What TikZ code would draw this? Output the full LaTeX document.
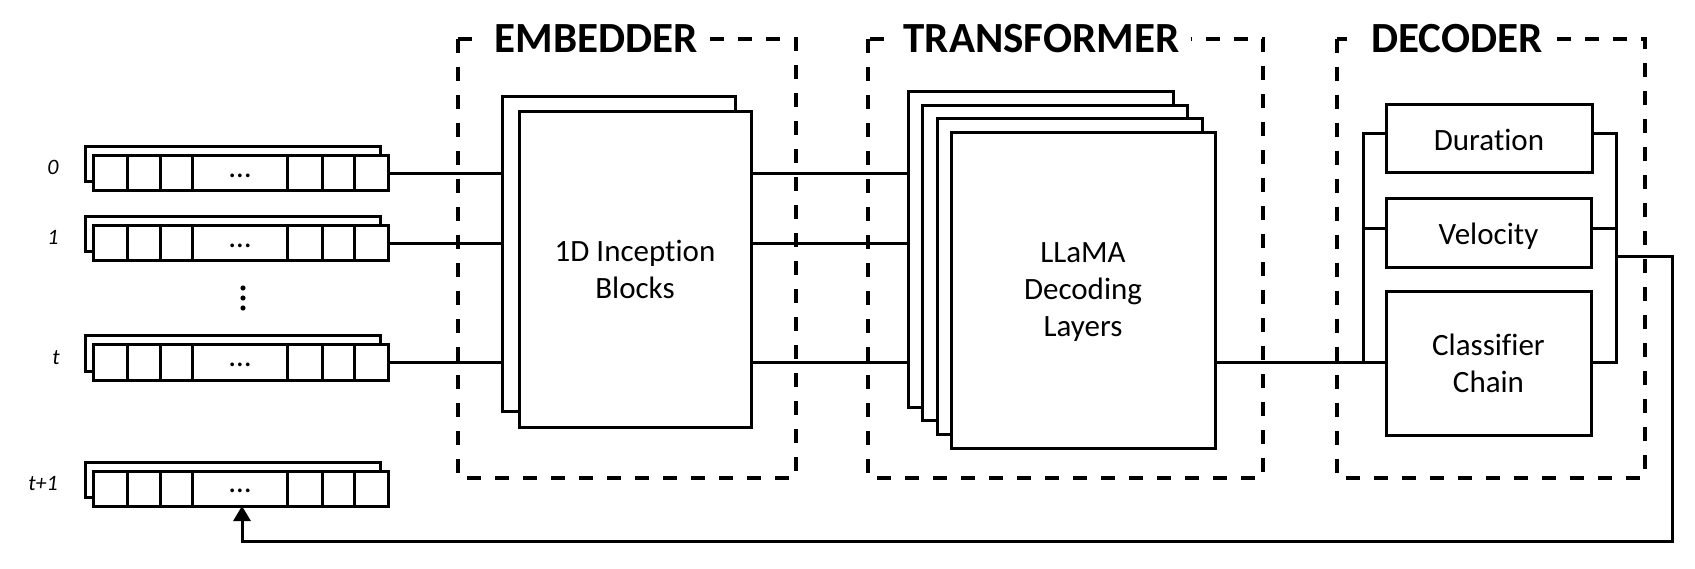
\documentclass[tikz,border=0pt]{standalone}
\usepackage{fontspec}
\setmainfont{Carlito}[Ligatures=NoCommon]
\usetikzlibrary{arrows.meta,calc}
\begin{document}
\begin{tikzpicture}[x=1pt,y=-1pt,
  line width=3pt,
  box/.style={draw,fill=white,line width=3pt,inner sep=0pt,outer sep=0pt,anchor=north west},
  grp/.style={draw,line width=3.3pt,dash pattern=on 14pt off 14pt},
  ttl/.style={fill=white,font=\fontsize{43}{50}\selectfont\bfseries,inner xsep=12pt,inner ysep=4pt,anchor=base west},
  lbl/.style={font=\fontsize{31}{37}\selectfont,align=center},
  rowlbl/.style={font=\fontsize{22}{26}\selectfont\itshape,anchor=base},
  dots/.style={font=\fontsize{31}{37}\selectfont,anchor=base,inner sep=0pt},
  fbarrow/.style={-{Triangle[width=17pt,length=15pt]}},
]
\useasboundingbox (0,0) rectangle (1695,569);

% group frames
\draw[grp] (458,39) rectangle (796,478);
\draw[grp] (868,39) rectangle (1263,478);
\draw[grp] (1337,39) rectangle (1645,478);
\node[ttl] (tEmb) at (481,53) {EMBEDDER};
\node[ttl] (tTra) at (890,53) {TRANSFORMER};
\node[ttl] (tDec) at (1358,53) {DECODER};

% input sequences
\foreach \n/\y/\l/\lx in {r0/156/0/53, r1/226/1/53, rt/345/t/56, rn/471/t+1/43}{
  \node[box,minimum width=295pt,minimum height=35pt] (\n b) at (85,\y-9) {};
  \node[box,minimum width=295pt,minimum height=35pt] (\n) at (93,\y) {};
  \foreach \d in {34,67,99,194,229,261}
    \draw ($(\n.north west)+(\d,0)$) -- ($(\n.south west)+(\d,0)$);
  \node[dots] (\n d) at ($(\n.west)+(147,4)$) {…};
  \node[rowlbl] (\n l) at (\lx,\y+19) {\l};
}
% vertical dots
\foreach \yy in {288,298,308}
  \fill (243,\yy) circle (2.6);

% embedder blocks
\node[box,minimum width=233pt,minimum height=314pt] (emb1) at (502,97) {};
\node[box,minimum width=232pt,minimum height=315pt] (emb2) at (519,112) {};
\node[lbl] (embt) at (emb2.center) {1D Inception\\Blocks};

% transformer layers
\node[box,minimum width=265pt,minimum height=315pt] (lay1) at (908,92) {};
\node[box,minimum width=265pt,minimum height=315pt] (lay2) at (922.5,105.5) {};
\node[box,minimum width=265pt,minimum height=315pt] (lay3) at (937,119) {};
\node[box,minimum width=264pt,minimum height=315pt] (lay4) at (951,133) {};
\node[lbl] (layt) at ($(lay4.center)+(0,2)$) {LLaMA\\Decoding\\Layers};

% decoder heads
\node[box,minimum width=206pt,minimum height=68pt] (dur) at (1386,105) {};
\node[lbl] (durt) at ($(dur.center)+(0,1)$) {Duration};
\node[box,minimum width=205pt,minimum height=69pt] (vel) at (1386,199) {};
\node[lbl] (velt) at ($(vel.center)+(0,3)$) {Velocity};
\node[box,minimum width=205pt,minimum height=143pt] (cls) at (1386,292) {};
\node[lbl] (clst) at (cls.center) {Classifier\\Chain};

% connectors: inputs -> embedder -> transformer
\foreach \n in {r0,r1,rt}{
  \draw (\n.east) -- (\n.east -| emb1.west);
  \draw (\n.east -| emb2.east) -- (\n.east -| lay1.west);
}
\draw (rt.east -| lay4.east) -- (rt.east -| cls.west);

% decoder buses
\coordinate (lb) at (1363,0);
\coordinate (rb) at (1616,0);
\draw ([yshift=5pt]dur.west) -| (lb |- rt.east);
\draw ([yshift=5pt]vel.west) -- ([yshift=5pt]vel.west -| lb);
\draw ([yshift=5pt]dur.east) -| (rb |- rt.east) -- (rt.east -| cls.east);
\draw ([yshift=5pt]vel.east) -- ([yshift=5pt]vel.east -| rb);

% feedback
\coordinate (fb) at (1672,257);
\coordinate (fbl) at (242,541);
\draw[fbarrow] (rb |- fb) -- (fb) |- (fbl) -- (fbl |- rn.south);
\end{tikzpicture}
\end{document}
